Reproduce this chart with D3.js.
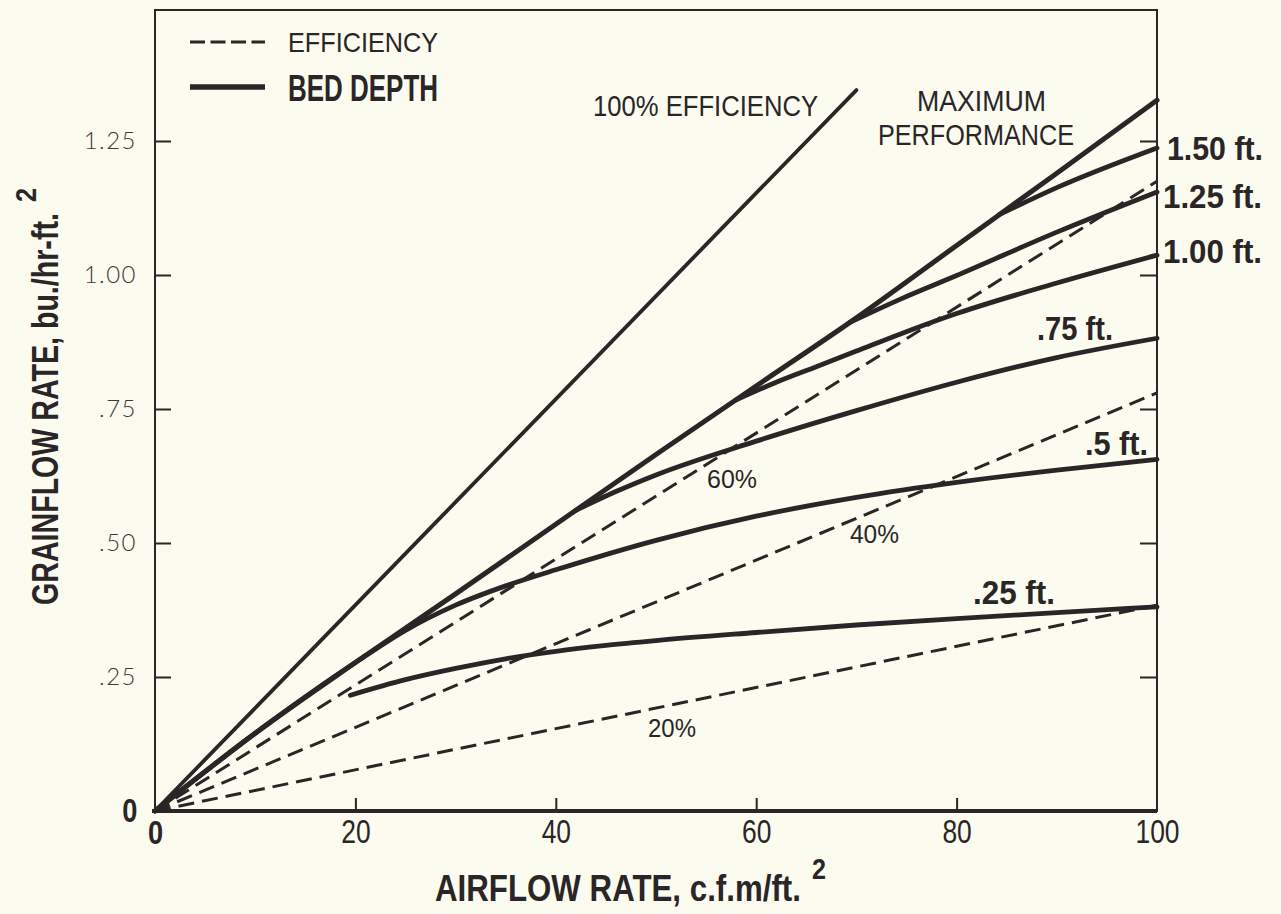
<!DOCTYPE html>
<html>
<head>
<meta charset="utf-8">
<script src="https://cdn.jsdelivr.net/npm/d3@7"></script>
<style>
  html, body { margin: 0; padding: 0; background: #fbfbf0; }
  svg { display: block; }
</style>
</head>
<body>
<svg id="chart" width="1281" height="914"></svg>
<script>
// Airflow rate (c.f.m/ft^2) on x, grainflow rate (bu./hr-ft^2) on y.
const xTicks = [0, 20, 40, 60, 80, 100];
const xTickLabels = ["0", "20", "40", "60", "80", "100"];
const yTicks = [0, 0.25, 0.5, 0.75, 1.0, 1.25];
const yTickLabels = ["0", ".25", ".50", ".75", "1.00", "1.25"];

// Efficiency reference lines (straight, from the origin)
const effNames = ["20%", "40%", "60%"];
const effEndX = [100, 100, 100];
const effEndY = [0.384, 0.78, 1.175];
const fullEffEnd = [70, 1.345];   // 100% efficiency line end point

// Maximum performance envelope
const maxPerfX = [0, 10, 20, 30, 40, 50, 60, 70, 80, 90, 100];
const maxPerfY = [0, 0.145, 0.277, 0.405, 0.535, 0.665, 0.793, 0.92, 1.055, 1.19, 1.326];

// Bed depth curves
const bedNames = [".25 ft.", ".5 ft.", ".75 ft.", "1.00 ft.", "1.25 ft.", "1.50 ft."];
const bed025X = [19.5, 25, 30, 35, 40, 45, 50, 60, 70, 80, 90, 100];
const bed025Y = [0.216, 0.245, 0.266, 0.284, 0.298, 0.309, 0.318, 0.333, 0.347, 0.359, 0.370, 0.381];
const bed050X = [0, 10, 20, 25, 30, 35, 40, 50, 60, 70, 80, 90, 100];
const bed050Y = [0, 0.145, 0.277, 0.337, 0.384, 0.420, 0.450, 0.505, 0.550, 0.585, 0.613, 0.636, 0.656];
const bed075X = [42, 46, 50, 60, 70, 80, 90, 100];
const bed075Y = [0.561, 0.596, 0.627, 0.690, 0.747, 0.800, 0.846, 0.882];
const bed100X = [58, 62, 66, 70, 74.4, 80, 90, 100];
const bed100Y = [0.767, 0.800, 0.829, 0.858, 0.890, 0.928, 0.985, 1.037];
const bed125X = [69.4, 74.4, 80, 90, 100];
const bed125Y = [0.912, 0.955, 0.999, 1.080, 1.155];
const bed150X = [84.3, 90, 100];
const bed150Y = [1.113, 1.163, 1.237];

const ink = "#2a2526";
const svg = d3.select("#chart");

const x = d3.scaleLinear().domain([0, 100]).range([155, 1157]);
const y = d3.scaleLinear().domain([0, 1.25]).range([811, 141]);
const yTop = y.invert(10);

const zip = (xs, ys) => xs.map((v, i) => [v, ys[i]]);
const line = d3.line().x(d => x(d[0])).y(d => y(d[1])).curve(d3.curveMonotoneX);

// Frame
svg.append("rect")
  .attr("x", x(0)).attr("y", y(yTop))
  .attr("width", x(100) - x(0)).attr("height", y(0) - y(yTop))
  .attr("fill", "none").attr("stroke", ink).attr("stroke-width", 2);

// Axes with inward ticks
const gLeft = svg.append("g").attr("transform", `translate(${x(0)},0)`)
  .call(d3.axisLeft(y).tickValues(yTicks).tickSize(-16).tickPadding(18)
    .tickFormat((d, i) => yTickLabels[i]));
const gRight = svg.append("g").attr("transform", `translate(${x(100)},0)`)
  .call(d3.axisRight(y).tickValues(yTicks.slice(1)).tickSize(-17).tickFormat(""));
const gBottom = svg.append("g").attr("transform", `translate(0,${y(0)})`)
  .call(d3.axisBottom(x).tickValues(xTicks).tickSize(-13).tickPadding(9)
    .tickFormat((d, i) => xTickLabels[i]));

[gLeft, gRight, gBottom].forEach(g => {
  g.select(".domain").remove();
  g.selectAll(".tick line").attr("stroke", ink).attr("stroke-width", 2);
});
gLeft.selectAll(".tick line").filter(d => d === 0).remove();
gBottom.selectAll(".tick line").filter(d => d === 0 || d === 100).remove();

gLeft.selectAll(".tick text")
  .attr("fill", "#3b3838")
  .style("font-family", "Lato, 'Liberation Sans', sans-serif")
  .style("font-weight", 300)
  .style("font-size", "24px")
  .style("letter-spacing", "1.5px");
gLeft.selectAll(".tick text").filter(d => d === 0)
  .attr("x", -22)
  .attr("fill", ink)
  .attr("transform", "scale(0.8,1)")
  .style("font-family", "'Liberation Sans', sans-serif")
  .style("font-weight", "bold")
  .style("font-size", "34px")
  .style("letter-spacing", "0px");

gBottom.selectAll(".tick text")
  .attr("fill", ink)
  .attr("transform", "scale(0.8,1)")
  .style("font-family", "'Liberation Sans', sans-serif")
  .style("font-size", "33px");
gBottom.selectAll(".tick text").filter(d => d === 0)
  .style("font-weight", "bold").style("font-size", "34px");

// Thicker base line
svg.append("line")
  .attr("x1", x(0) - 3).attr("x2", x(100))
  .attr("y1", y(0)).attr("y2", y(0))
  .attr("stroke", ink).attr("stroke-width", 4);

// Efficiency lines (dashed)
const dash = "16,8";
effNames.forEach((n, i) => {
  svg.append("path")
    .attr("d", line([[0, 0], [effEndX[i], effEndY[i]]]))
    .attr("fill", "none").attr("stroke", ink)
    .attr("stroke-width", 3).attr("stroke-dasharray", dash);
});

// 100% efficiency line
svg.append("path")
  .attr("d", line([[0, 0], fullEffEnd]))
  .attr("fill", "none").attr("stroke", ink).attr("stroke-width", 3.8)
  .attr("stroke-linecap", "round");

// Maximum performance
svg.append("path")
  .attr("d", line(zip(maxPerfX, maxPerfY)))
  .attr("fill", "none").attr("stroke", ink).attr("stroke-width", 5)
  .attr("stroke-linecap", "round");

// Bed depth curves
[[bed025X, bed025Y], [bed050X, bed050Y], [bed075X, bed075Y],
 [bed100X, bed100Y], [bed125X, bed125Y], [bed150X, bed150Y]].forEach(([xs, ys]) => {
  svg.append("path")
    .attr("d", line(zip(xs, ys)))
    .attr("fill", "none").attr("stroke", ink).attr("stroke-width", 4.8)
    .attr("stroke-linecap", "round");
});

// Text helpers
function label(txt, px, py, opts = {}) {
  const t = svg.append("text")
    .attr("x", px).attr("y", py)
    .attr("fill", ink)
    .attr("text-anchor", opts.anchor || "start")
    .style("font-family", opts.family || "'Liberation Sans', sans-serif")
    .style("font-weight", opts.weight || "normal")
    .style("font-size", (opts.size || 28) + "px")
    .text(txt);
  if (opts.len) t.attr("textLength", opts.len).attr("lengthAdjust", opts.adjust || "spacingAndGlyphs");
  if (opts.rotate) t.attr("transform", `rotate(${opts.rotate},${px},${py})`);
  return t;
}

// Condensed bold axis title (horizontally squeezed to a set width) plus superscript "2"
function axisTitle(main, px, py, len, rotate) {
  const g = svg.append("g")
    .attr("transform", `translate(${px},${py}) rotate(${rotate})`);
  const t = g.append("text")
    .attr("x", 0).attr("y", 0)
    .attr("fill", ink)
    .style("font-family", "'Liberation Sans', sans-serif")
    .style("font-weight", "bold")
    .style("font-size", "37px")
    .text(main);
  const w = t.node().getComputedTextLength();
  t.attr("transform", `scale(${len / w},1)`);
  const s = g.append("text")
    .attr("x", 0).attr("y", 0)
    .attr("fill", ink)
    .style("font-family", "'Liberation Sans', sans-serif")
    .style("font-weight", "bold")
    .style("font-size", "30px")
    .text("2");
  const ws = s.node().getComputedTextLength();
  s.attr("transform", `translate(${len + 11},-22) scale(${14 / ws},1)`);
}

// Percent labels
label("60%", 707, 488, { size: 25, len: 50 });
label("40%", 850, 543, { size: 25, len: 49 });
label("20%", 648, 737, { size: 25, len: 48 });

// Bed depth labels
const bedLabelPos = [[973, 604, 82], [1085, 455, 63], [1037, 340, 76],
                     [1163, 263, 99], [1163, 208, 99], [1167, 160, 96]];
bedNames.forEach((n, i) => {
  const [px, py, len] = bedLabelPos[i];
  label(n, px, py, { weight: "bold", size: 34, len: len });
});

// Annotations
label("100% EFFICIENCY", 593, 116, { size: 30, len: 225 });
label("MAXIMUM", 917, 111, { size: 30, len: 129 });
label("PERFORMANCE", 878, 145, { size: 30, len: 196 });

// Legend
svg.append("line").attr("x1", 190).attr("x2", 265).attr("y1", 42).attr("y2", 42)
  .attr("stroke", ink).attr("stroke-width", 3).attr("stroke-dasharray", "15,5.5");
label("EFFICIENCY", 288, 52, { size: 28, len: 150 });
svg.append("line").attr("x1", 190).attr("x2", 265).attr("y1", 87).attr("y2", 87)
  .attr("stroke", ink).attr("stroke-width", 5.5);
label("BED DEPTH", 288, 101, { weight: "bold", size: 36, len: 150 });

// Axis titles
axisTitle("AIRFLOW RATE, c.f.m/ft.", 435, 901, 366, 0);
axisTitle("GRAINFLOW RATE, bu./hr-ft.", 58, 605, 392, -90);
</script>
</body>
</html>
